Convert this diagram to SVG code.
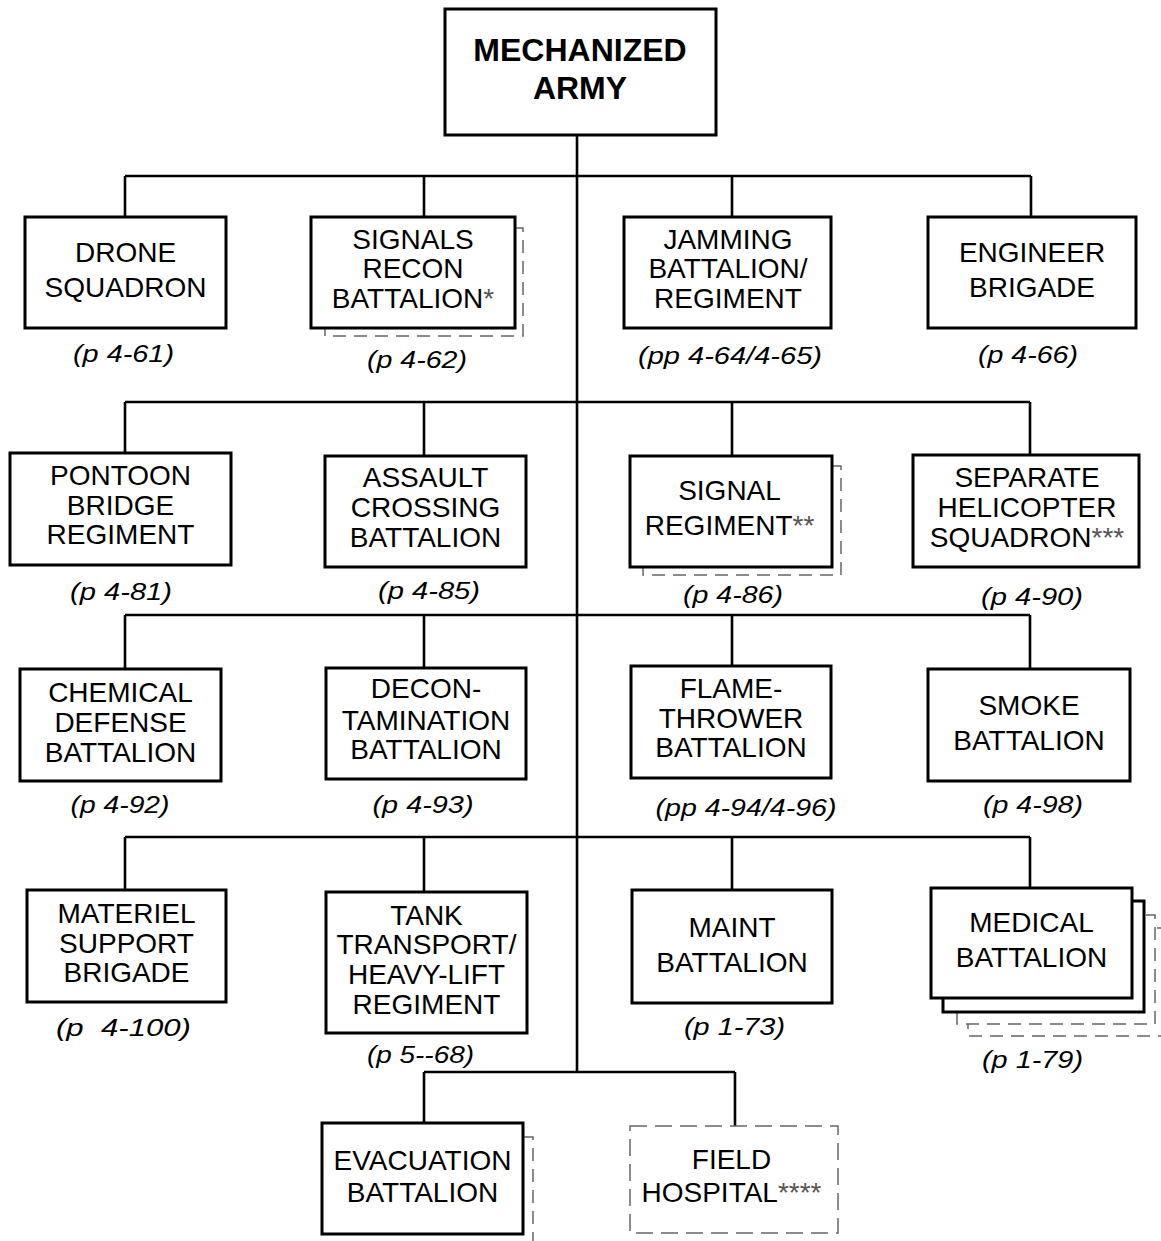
<svg xmlns="http://www.w3.org/2000/svg" width="1161" height="1241" viewBox="0 0 1161 1241">
<style>
.box{fill:#fff;stroke:#000;stroke-width:3}
.shadow{fill:#fff;stroke:#666;stroke-width:1.5;stroke-dasharray:13 8}
.dbox{fill:#fff;stroke:#666;stroke-width:1.5;stroke-dasharray:17 8}
.ln{stroke:#000;stroke-width:2.6;fill:none}
.t{font-family:"Liberation Sans",Arial,sans-serif;font-size:28px;text-anchor:middle;fill:#000}
.title{font-family:"Liberation Sans",Arial,sans-serif;font-size:32px;font-weight:bold;text-anchor:middle;fill:#000}
.lbl{font-family:"Liberation Sans",Arial,sans-serif;font-size:24px;font-style:italic;text-anchor:middle;fill:#000}
.ast{fill:#555}
</style>
<rect width="1161" height="1241" fill="#fff"/>
<g id="connectors">
<path class="ln" d="M577 135V1072"/>
<path class="ln" d="M125 176H1031M125 176V217M424 176V217M732 176V217M1031 176V217"/>
<path class="ln" d="M125 402H1030M125 402V453M424 402V456M732 402V456M1030 402V455"/>
<path class="ln" d="M125 615H1030M125 615V669M424 615V668M732 615V666M1030 615V669"/>
<path class="ln" d="M125 837H1030M125 837V890M424 837V892M732 837V890M1030 837V888"/>
<path class="ln" d="M424 1072H735M424 1072V1123M735 1072V1126"/>
</g>
<g id="mechanized-army">
<rect class="box" x="445" y="9" width="271" height="126"/>
<text class="title" x="580" y="61">MECHANIZED</text>
<text class="title" x="580" y="99">ARMY</text>
</g>
<g id="drone-squadron">
<rect class="box" x="25" y="217" width="201" height="111"/>
<text class="t" x="125.5" y="262">DRONE</text>
<text class="t" x="125.5" y="297">SQUADRON</text>
<text class="lbl" x="123.5" y="362" textLength="101" lengthAdjust="spacingAndGlyphs">(p 4-61)</text>
</g>
<g id="signals-recon-battalion">
<rect class="shadow" x="325" y="228" width="198" height="108"/>
<rect class="box" x="311" y="217" width="204" height="111"/>
<text class="t" x="413" y="249">SIGNALS</text>
<text class="t" x="413" y="278">RECON</text>
<text class="t" x="413" y="308">BATTALION<tspan class="ast">*</tspan></text>
<text class="lbl" x="417" y="368" textLength="100" lengthAdjust="spacingAndGlyphs">(p 4-62)</text>
</g>
<g id="jamming-battalion">
<rect class="box" x="624" y="217" width="207" height="111"/>
<text class="t" x="728" y="249">JAMMING</text>
<text class="t" x="728" y="278">BATTALION/</text>
<text class="t" x="728" y="308">REGIMENT</text>
<text class="lbl" x="730" y="364" textLength="184" lengthAdjust="spacingAndGlyphs">(pp 4-64/4-65)</text>
</g>
<g id="engineer-brigade">
<rect class="box" x="928" y="217" width="208" height="111"/>
<text class="t" x="1032" y="262">ENGINEER</text>
<text class="t" x="1032" y="297">BRIGADE</text>
<text class="lbl" x="1028" y="363" textLength="100" lengthAdjust="spacingAndGlyphs">(p 4-66)</text>
</g>
<g id="pontoon-bridge-regiment">
<rect class="box" x="10" y="453" width="221" height="112"/>
<text class="t" x="120.5" y="485">PONTOON</text>
<text class="t" x="120.5" y="515">BRIDGE</text>
<text class="t" x="120.5" y="544">REGIMENT</text>
<text class="lbl" x="121" y="600" textLength="102" lengthAdjust="spacingAndGlyphs">(p 4-81)</text>
</g>
<g id="assault-crossing-battalion">
<rect class="box" x="325" y="456" width="201" height="111"/>
<text class="t" x="425.5" y="487">ASSAULT</text>
<text class="t" x="425.5" y="517">CROSSING</text>
<text class="t" x="425.5" y="547">BATTALION</text>
<text class="lbl" x="429" y="599" textLength="102" lengthAdjust="spacingAndGlyphs">(p 4-85)</text>
</g>
<g id="signal-regiment">
<rect class="shadow" x="643" y="466" width="198" height="109"/>
<rect class="box" x="630" y="456" width="202" height="111"/>
<text class="t" x="729.5" y="500">SIGNAL</text>
<text class="t" x="729.5" y="535">REGIMENT<tspan class="ast">**</tspan></text>
<text class="lbl" x="733" y="603" textLength="100" lengthAdjust="spacingAndGlyphs">(p 4-86)</text>
</g>
<g id="separate-helicopter-squadron">
<rect class="box" x="913" y="455" width="226" height="112"/>
<text class="t" x="1027" y="487">SEPARATE</text>
<text class="t" x="1027" y="517">HELICOPTER</text>
<text class="t" x="1027" y="547">SQUADRON<tspan class="ast">***</tspan></text>
<text class="lbl" x="1032" y="605" textLength="102" lengthAdjust="spacingAndGlyphs">(p 4-90)</text>
</g>
<g id="chemical-defense-battalion">
<rect class="box" x="20" y="669" width="201" height="112"/>
<text class="t" x="120.5" y="702">CHEMICAL</text>
<text class="t" x="120.5" y="732">DEFENSE</text>
<text class="t" x="120.5" y="762">BATTALION</text>
<text class="lbl" x="120" y="813" textLength="99" lengthAdjust="spacingAndGlyphs">(p 4-92)</text>
</g>
<g id="decontamination-battalion">
<rect class="box" x="326" y="668" width="200" height="111"/>
<text class="t" x="426" y="698">DECON-</text>
<text class="t" x="426" y="730">TAMINATION</text>
<text class="t" x="426" y="759">BATTALION</text>
<text class="lbl" x="423" y="813" textLength="101" lengthAdjust="spacingAndGlyphs">(p 4-93)</text>
</g>
<g id="flamethrower-battalion">
<rect class="box" x="631" y="666" width="200" height="112"/>
<text class="t" x="731" y="698">FLAME-</text>
<text class="t" x="731" y="728">THROWER</text>
<text class="t" x="731" y="757">BATTALION</text>
<text class="lbl" x="746" y="816" textLength="181" lengthAdjust="spacingAndGlyphs">(pp 4-94/4-96)</text>
</g>
<g id="smoke-battalion">
<rect class="box" x="928" y="669" width="202" height="112"/>
<text class="t" x="1029" y="715">SMOKE</text>
<text class="t" x="1029" y="750">BATTALION</text>
<text class="lbl" x="1033" y="813" textLength="100" lengthAdjust="spacingAndGlyphs">(p 4-98)</text>
</g>
<g id="materiel-support-brigade">
<rect class="box" x="27" y="890" width="199" height="112"/>
<text class="t" x="126.5" y="923">MATERIEL</text>
<text class="t" x="126.5" y="953">SUPPORT</text>
<text class="t" x="126.5" y="982">BRIGADE</text>
<text class="lbl" x="123.5" y="1036" textLength="135" lengthAdjust="spacingAndGlyphs" xml:space="preserve">(p  4-100)</text>
</g>
<g id="tank-transport-regiment">
<rect class="box" x="326" y="892" width="201" height="141"/>
<text class="t" x="426.5" y="925">TANK</text>
<text class="t" x="426.5" y="954">TRANSPORT/</text>
<text class="t" x="426.5" y="984">HEAVY-LIFT</text>
<text class="t" x="426.5" y="1014">REGIMENT</text>
<text class="lbl" x="420.5" y="1063" textLength="107" lengthAdjust="spacingAndGlyphs">(p 5--68)</text>
</g>
<g id="maint-battalion">
<rect class="box" x="632" y="890" width="200" height="113"/>
<text class="t" x="732" y="937">MAINT</text>
<text class="t" x="732" y="972">BATTALION</text>
<text class="lbl" x="734.5" y="1035" textLength="101" lengthAdjust="spacingAndGlyphs">(p 1-73)</text>
</g>
<g id="medical-battalion">
<rect class="shadow" x="968" y="928" width="205" height="108"/>
<rect class="shadow" x="957" y="915" width="198" height="109"/>
<rect class="box" x="943" y="901" width="201" height="111"/>
<rect class="box" x="931" y="888" width="201" height="110"/>
<text class="t" x="1031.5" y="932">MEDICAL</text>
<text class="t" x="1031.5" y="967">BATTALION</text>
<text class="lbl" x="1032.5" y="1068" textLength="101" lengthAdjust="spacingAndGlyphs">(p 1-79)</text>
</g>
<g id="evacuation-battalion">
<rect class="shadow" x="334" y="1137" width="199" height="112"/>
<rect class="box" x="322" y="1123" width="201" height="111"/>
<text class="t" x="422.5" y="1170">EVACUATION</text>
<text class="t" x="422.5" y="1202">BATTALION</text>
</g>
<g id="field-hospital">
<rect class="dbox" x="630" y="1126" width="208" height="107"/>
<text class="t" x="731.5" y="1169">FIELD</text>
<text class="t" x="731.5" y="1202">HOSPITAL<tspan class="ast">****</tspan></text>
</g>
</svg>
